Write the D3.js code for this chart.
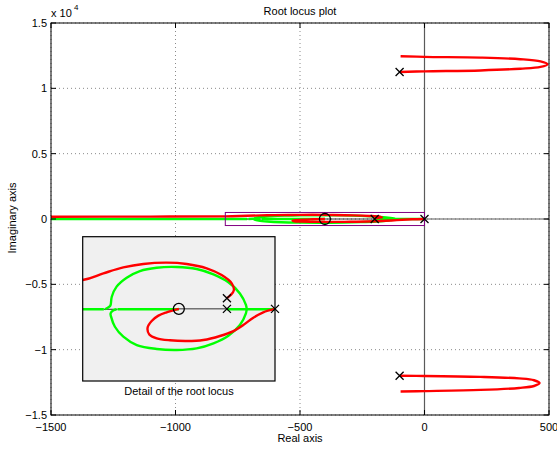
<!DOCTYPE html>
<html>
<head>
<meta charset="utf-8">
<script src="https://cdn.jsdelivr.net/npm/d3@7"></script>
<style>
  body { margin: 0; background: #fff; }
  text { font-family: "Liberation Sans", Arial, sans-serif; font-size: 11px; fill: #000; }
</style>
</head>
<body>
<div id="app"></div>
<script>
// ---- data (real, imaginary) ----
var xTicks = [-1500, -1000, -500, 0, 500];
var yTicks = [-15000, -10000, -5000, 0, 5000, 10000, 15000];
var yTickLabels = ["\u22121.5", "\u22121", "\u22120.5", "0", "0.5", "1", "1.5"];

// far branches (red hairpins)
var redTop = [[-100, 11250], [0, 11300], [225, 11370], [385, 11500], [466, 11640], [494, 11846],
  [466, 12060], [385, 12230], [225, 12350], [0, 12410], [-96, 12460]];
var redBottom = [[-100, -12000], [0, -12010], [225, -12080], [380, -12200], [440, -12340], [462, -12560],
  [440, -12780], [380, -12930], [225, -13080], [0, -13170], [-96, -13200]];

// near-axis branches
var redArc = [[-1500, 170], [-1100, 185], [-800, 200], [-714, 246], [-631, 287], [-548, 311], [-451, 320],
  [-367, 311], [-284, 281], [-222, 234], [-180, 177], [-171, 130], [-184, 96], [-201, 73]];
var redLoop = [[-400, 0], [-451, -24], [-485, -47], [-513, -84], [-530, -130], [-523, -177], [-492, -204],
  [-437, -218], [-367, -223], [-298, -216], [-229, -188], [-173, -154], [-132, -112], [-90, -61],
  [-49, -24], [0, 0]];
var greenCircle = [[-707, -3], [-689, 15], [-684, 27], [-679, 84], [-659, 154], [-617, 216], [-562, 262],
  [-492, 285], [-409, 290], [-326, 276], [-256, 239], [-194, 184], [-146, 107], [-121, 27], [-118, -3],
  [-121, -31], [-146, -112], [-194, -186], [-256, -239], [-326, -274], [-409, -285], [-492, -278],
  [-575, -251], [-631, -193], [-666, -124], [-682, -54], [-684, -31], [-672, -10], [-659, -3]];
var greenAxisLeft = [[-1500, -3], [-712, -3]];
var greenAxisMid = [[-655, -3], [-400, -3]];
var greenAxisRight = [[-200, -3], [0, -3]];
var blackAxis = [[-400, 0], [-200, 0]];
var blackKink = [[-712, -3], [-655, -3]];

var polesMain = [[-100, 11250], [-100, -12000], [-200, 0], [0, 0]];
var polesDetail = [[-200, 73], [-200, 0], [0, 0]];
var zeros = [[-400, 0]];
var detailBox = {re: [-800, 0], im: [-500, 500]};

// ---- layout ----
var W = 557, H = 450;
var svg = d3.select("#app").append("svg").attr("width", W).attr("height", H);

var x = d3.scaleLinear().domain([-1500, 500]).range([51, 549]);
var y = d3.scaleLinear().domain([-15000, 15000]).range([415, 23]);

// clip for main axes
svg.append("clipPath").attr("id", "mainClip")
  .append("rect").attr("x", 51).attr("y", 23).attr("width", 498).attr("height", 392);

// grid
var grid = svg.append("g");
grid.selectAll(".gx").data(xTicks).join("line")
  .attr("x1", d => x(d)).attr("x2", d => x(d)).attr("y1", 23).attr("y2", 415)
  .attr("stroke", "#8a8a8a").attr("stroke-width", 1).attr("stroke-dasharray", "1,3");
grid.selectAll(".gy").data(yTicks).join("line")
  .attr("y1", d => y(d)).attr("y2", d => y(d)).attr("x1", 51).attr("x2", 549)
  .attr("stroke", "#8a8a8a").attr("stroke-width", 1).attr("stroke-dasharray", "1,3");

// zero axis lines
svg.append("line").attr("x1", x(0)).attr("x2", x(0)).attr("y1", 23).attr("y2", 415)
  .attr("stroke", "#5a5a5a").attr("stroke-width", 1.2);
svg.append("line").attr("x1", x(0)).attr("x2", 549).attr("y1", y(0)).attr("y2", y(0))
  .attr("stroke", "#5a5a5a").attr("stroke-width", 1.2);

function drawLocus(g, xs, ys) {
  var line = d3.line().x(d => xs(d[0])).y(d => ys(d[1])).curve(d3.curveCatmullRom);
  var straight = d3.line().x(d => xs(d[0])).y(d => ys(d[1]));
  g.append("path").attr("d", straight(blackAxis)).attr("fill", "none").attr("stroke", "#000").attr("stroke-width", 0.8);
  g.append("path").attr("d", straight(blackKink)).attr("fill", "none").attr("stroke", "#000").attr("stroke-width", 0.8);
  [greenAxisLeft, greenAxisMid, greenAxisRight].forEach(function(s) {
    g.append("path").attr("d", straight(s)).attr("fill", "none").attr("stroke", "#00ff00").attr("stroke-width", 2.4);
  });
  g.append("path").attr("d", line(greenCircle)).attr("fill", "none").attr("stroke", "#00ff00").attr("stroke-width", 2.4);
  [redArc, redLoop].forEach(function(s) {
    g.append("path").attr("d", line(s)).attr("fill", "none").attr("stroke", "#ff0000").attr("stroke-width", 2.4);
  });
}

function drawX(g, pts, xs, ys, s) {
  g.selectAll(null).data(pts).join("path")
    .attr("d", d => {
      var cx = xs(d[0]), cy = ys(d[1]);
      return "M" + (cx - s) + "," + (cy - s) + "L" + (cx + s) + "," + (cy + s) +
        "M" + (cx - s) + "," + (cy + s) + "L" + (cx + s) + "," + (cy - s);
    })
    .attr("stroke", "#000").attr("stroke-width", 1.3).attr("fill", "none");
}

function drawO(g, pts, xs, ys, r) {
  g.selectAll(null).data(pts).join("circle")
    .attr("cx", d => xs(d[0])).attr("cy", d => ys(d[1])).attr("r", r)
    .attr("stroke", "#000").attr("stroke-width", 1.3).attr("fill", "none");
}

var main = svg.append("g").attr("clip-path", "url(#mainClip)");
var hair = d3.line().x(d => x(d[0])).y(d => y(d[1])).curve(d3.curveCatmullRom);
[redTop, redBottom].forEach(function(s) {
  main.append("path").attr("d", hair(s)).attr("fill", "none").attr("stroke", "#ff0000").attr("stroke-width", 2.4);
});
drawLocus(main, x, y);

// detail rectangle
main.append("rect")
  .attr("x", x(detailBox.re[0])).attr("y", y(detailBox.im[1]))
  .attr("width", x(detailBox.re[1]) - x(detailBox.re[0]))
  .attr("height", y(detailBox.im[0]) - y(detailBox.im[1]))
  .attr("fill", "none").attr("stroke", "#800080").attr("stroke-width", 1);

drawX(main, polesMain, x, y, 4);
drawO(main, zeros, x, y, 5.5);

// frame and ticks
svg.append("rect").attr("x", 51).attr("y", 23).attr("width", 498).attr("height", 392)
  .attr("fill", "none").attr("stroke", "#000").attr("stroke-width", 1);
var ticks = svg.append("g").attr("stroke", "#000").attr("stroke-width", 1);
xTicks.forEach(function(t) {
  ticks.append("line").attr("x1", x(t)).attr("x2", x(t)).attr("y1", 415).attr("y2", 410);
  ticks.append("line").attr("x1", x(t)).attr("x2", x(t)).attr("y1", 23).attr("y2", 28);
});
yTicks.forEach(function(t) {
  ticks.append("line").attr("y1", y(t)).attr("y2", y(t)).attr("x1", 51).attr("x2", 56);
  ticks.append("line").attr("y1", y(t)).attr("y2", y(t)).attr("x1", 549).attr("x2", 544);
});

// tick labels
svg.selectAll(".xl").data(xTicks).join("text")
  .attr("x", d => x(d)).attr("y", 431).attr("text-anchor", "middle")
  .text(d => d < 0 ? "\u2212" + Math.abs(d) : d);
svg.selectAll(".yl").data(yTicks).join("text")
  .attr("x", 47).attr("y", d => y(d) + 4).attr("text-anchor", "end")
  .text((d, i) => yTickLabels[i]);

// exponent
svg.append("text").attr("x", 51).attr("y", 17).text("x 10");
svg.append("text").attr("x", 74).attr("y", 10).style("font-size", "8px").text("4");

// titles
svg.append("text").attr("x", 300).attr("y", 15).attr("text-anchor", "middle").text("Root locus plot");
svg.append("text").attr("x", 300).attr("y", 442).attr("text-anchor", "middle").text("Real axis");
svg.append("text").attr("transform", "translate(16,218) rotate(-90)").attr("text-anchor", "middle").text("Imaginary axis");

// ---- inset: detail of the root locus ----
var xi = d3.scaleLinear().domain(detailBox.re).range([82.7, 275]);
var yi = d3.scaleLinear().domain(detailBox.im).range([381, 236.7]);
svg.append("clipPath").attr("id", "insetClip")
  .append("rect").attr("x", 82.7).attr("y", 236.7).attr("width", 192.3).attr("height", 144.3);
svg.append("rect").attr("x", 82.7).attr("y", 236.7).attr("width", 192.3).attr("height", 144.3)
  .attr("fill", "#f0f0f0");
var inset = svg.append("g").attr("clip-path", "url(#insetClip)");
drawLocus(inset, xi, yi);
drawX(svg, polesDetail, xi, yi, 4);
drawO(svg, zeros, xi, yi, 5.5);
svg.append("rect").attr("x", 82.7).attr("y", 236.7).attr("width", 192.3).attr("height", 144.3)
  .attr("fill", "none").attr("stroke", "#000").attr("stroke-width", 1.2);
svg.append("text").attr("x", 179).attr("y", 395).attr("text-anchor", "middle").text("Detail of the root locus");
</script>
</body>
</html>
